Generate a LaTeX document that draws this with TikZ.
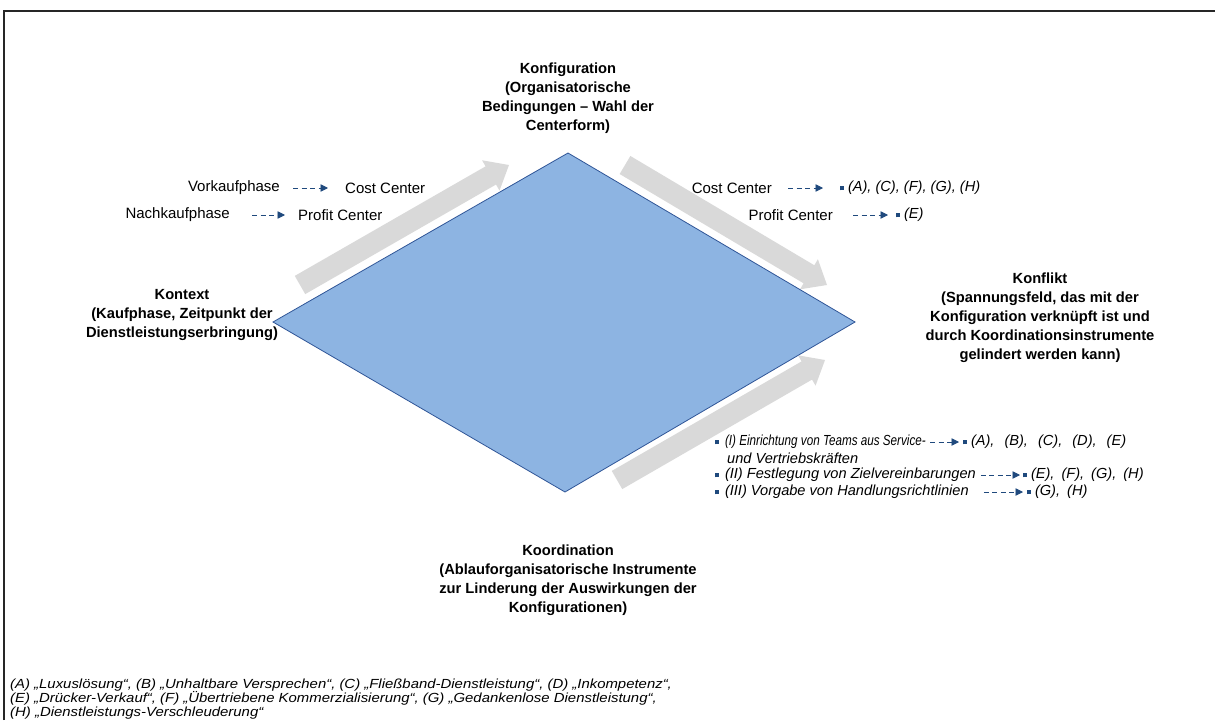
\documentclass[tikz,border=0pt]{standalone}
\usepackage{fontspec}
\usepackage{graphicx}
\setmainfont{Liberation Sans}
\newfontfamily\footfont[FakeStretch=1.13]{Liberation Sans}
\usetikzlibrary{arrows.meta,calc}
\definecolor{diafill}{RGB}{141,180,226}
\definecolor{diaedge}{RGB}{47,85,151}
\definecolor{arrgray}{RGB}{217,217,217}
\definecolor{arrblue}{RGB}{31,73,125}
\newcommand\bsq{{\color{arrblue}\rule[1.5pt]{3.8pt}{3.8pt}}}
\newcommand\blockarrow[2]{%
  \coordinate (ba-n) at ($(#2)!21pt!(#1)$);
  \fill[arrgray] ($(#1)!10.5pt!90:(#2)$) -- ($(ba-n)!10.5pt!90:(#2)$) -- ($(ba-n)!17.5pt!90:(#2)$) -- (#2)
    -- ($(ba-n)!17.5pt!-90:(#2)$) -- ($(ba-n)!10.5pt!-90:(#2)$) -- ($(#1)!10.5pt!-90:(#2)$) -- cycle;}
\tikzset{
  heading/.style={font=\bfseries\fontsize{14.7}{19}\selectfont, align=center, inner sep=0pt},
  lbl/.style={font=\fontsize{15}{18}\selectfont, inner sep=0pt},
  ilbl/.style={font=\itshape\fontsize{14.6}{17}\selectfont, inner sep=0pt},
  slbl/.style={font=\itshape\fontsize{14.6}{17}\selectfont, inner sep=0pt},
  dasharrow/.style={draw=arrblue, line width=0.9pt, dash pattern=on 5pt off 3.5pt, -{Triangle[length=7.5pt,width=7.5pt]}},
}
\begin{document}
\begin{tikzpicture}[x=1pt,y=-1pt]
\useasboundingbox (0,0) rectangle (1215,720);
% frame
\draw[line width=1.6pt, black!85] (4,720) -- (4,11) -- (1215,11);

% gray block arrows
\coordinate (a1t) at (300,285); \coordinate (a1h) at (509,165);
\coordinate (a2t) at (625,165); \coordinate (a2h) at (827,285);
\coordinate (a3t) at (617,480); \coordinate (a3h) at (825,360);
\blockarrow{a1t}{a1h}
\blockarrow{a2t}{a2h}
\blockarrow{a3t}{a3h}

% diamond
\coordinate (dT) at (568,153); \coordinate (dR) at (855,322);
\coordinate (dB) at (565,492); \coordinate (dL) at (273,322);
\filldraw[fill=diafill, draw=diaedge, line width=0.8pt] (dT) -- (dR) -- (dB) -- (dL) -- cycle;

% headings
\node[heading] (konfig) at (568,98) {Konfiguration\\(Organisatorische\\Bedingungen -- Wahl der\\Centerform)};
\node[heading] (kontext) at (182,315) {Kontext\\(Kaufphase, Zeitpunkt der\\Dienstleistungserbringung)};
\node[heading] (konflikt) at (1040,318) {Konflikt\\(Spannungsfeld, das mit der\\Konfiguration verknüpft ist und\\durch Koordinationsinstrumente\\gelindert werden kann)};
\node[heading] (koord) at (568,580.5) {Koordination\\(Ablauforganisatorische Instrumente\\zur Linderung der Auswirkungen der\\Konfigurationen)};

% top left labels
\node[lbl, anchor=east] (vk) at (280,188) {Vorkaufphase};
\node[lbl, anchor=west] (cc1) at (345,188) {Cost Center};
\node[lbl, anchor=east] (nk) at (230,215) {Nachkaufphase};
\node[lbl, anchor=west] (pc1) at (298,215) {Profit Center};
\draw[dasharrow] ([xshift=13pt]vk.east) -- ([xshift=-17pt]cc1.west);
\draw[dasharrow] ([xshift=22pt]nk.east) -- ([xshift=-13pt]pc1.west);

% top right labels
\node[lbl, anchor=east] (cc2) at (772,188) {Cost Center};
\node[ilbl, anchor=west] (r1) at (840,188) {\bsq\hspace{4pt}(A), (C), (F), (G), (H)};
\node[lbl, anchor=east] (pc2) at (833,215) {Profit Center};
\node[ilbl, anchor=west] (r2) at (896,215) {\bsq\hspace{4pt}(E)};
\draw[dasharrow] ([xshift=16pt]cc2.east) -- ([xshift=-17pt]r1.west);
\draw[dasharrow] ([xshift=20pt]pc2.east) -- ([xshift=-8pt]r2.west);

% bottom right list
\node[slbl, anchor=west] (l1) at (715,442) {\bsq\hspace{6pt}\scalebox{0.8}[1]{(I) Einrichtung von Teams aus Service-}};
\node[slbl, anchor=west] (l1b) at (727,458) {und Vertriebskräften};
\node[slbl, anchor=west] (l2) at (715,475) {\bsq\hspace{6pt}(II) Festlegung von Zielvereinbarungen};
\node[slbl, anchor=west] (l3) at (715,492) {\bsq\hspace{6pt}(III) Vorgabe von Handlungsrichtlinien};
\node[slbl, anchor=west] (q1) at (963,442) {\bsq\hspace{4pt}(A),\hspace{10pt}(B),\hspace{10pt}(C),\hspace{10pt}(D),\hspace{10pt}(E)};
\node[slbl, anchor=west] (q2) at (1023,475) {\bsq\hspace{4pt}(E),\hspace{7pt}(F),\hspace{7pt}(G),\hspace{7pt}(H)};
\node[slbl, anchor=west] (q3) at (1027,492) {\bsq\hspace{4pt}(G),\hspace{7pt}(H)};
\draw[dasharrow] ([xshift=4pt]l1.east) -- ([xshift=-4pt]q1.west);
\draw[dasharrow] ([xshift=5pt]l2.east) -- ([xshift=-3pt]q2.west);
\draw[dasharrow] ([xshift=15pt]l3.east) -- ([xshift=-4pt]q3.west);

% footnote
\node[font=\footfont\itshape\fontsize{13.2}{14}\selectfont, align=left, anchor=west, inner sep=0pt] (foot) at (10,699)
 {(A) „Luxuslösung“, (B) „Unhaltbare Versprechen“, (C) „Fließband-Dienstleistung“, (D) „Inkompetenz“,\\
  (E) „Drücker-Verkauf“, (F) „Übertriebene Kommerzialisierung“, (G) „Gedankenlose Dienstleistung“,\\
  (H) „Dienstleistungs-Verschleuderung“};
\end{tikzpicture}
\end{document}
